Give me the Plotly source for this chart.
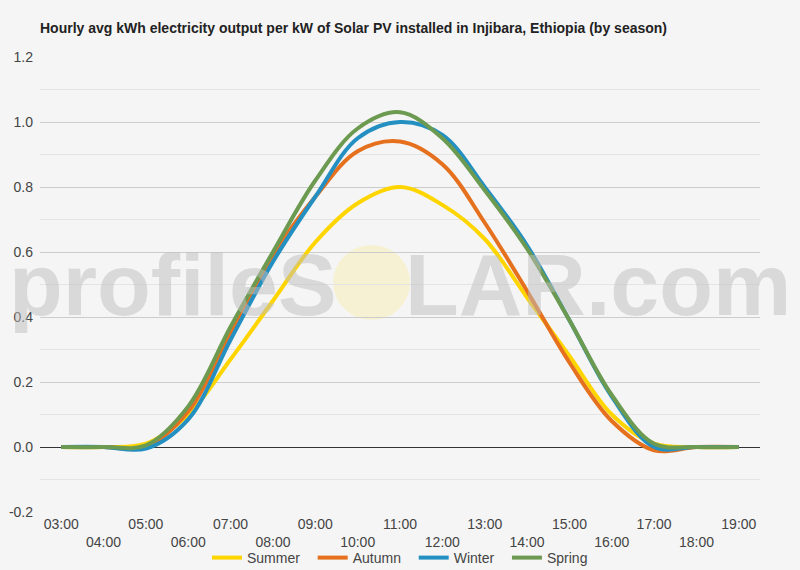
import plotly.graph_objects as go

hours = ["03:00", "04:00", "05:00", "06:00", "07:00", "08:00", "09:00", "10:00", "11:00",
         "12:00", "13:00", "14:00", "15:00", "16:00", "17:00", "18:00", "19:00"]
summer = [0, 0, 0.01, 0.10, 0.27, 0.45, 0.63, 0.75, 0.80, 0.745, 0.64, 0.46, 0.28, 0.10, 0.01, 0, 0]
autumn = [0, 0, 0.0, 0.11, 0.35, 0.59, 0.77, 0.91, 0.94, 0.87, 0.69, 0.48, 0.26, 0.08, -0.01, 0, 0]
winter = [0, 0, -0.005, 0.085, 0.33, 0.57, 0.77, 0.95, 1.00, 0.96, 0.80, 0.62, 0.39, 0.155, 0.0, 0, 0]
spring = [0, 0, 0.005, 0.125, 0.37, 0.60, 0.82, 0.98, 1.03, 0.95, 0.79, 0.61, 0.39, 0.16, 0.01, 0, 0]
y_ticks = [-0.2, 0.0, 0.2, 0.4, 0.6, 0.8, 1.0, 1.2]
y_ticktext = ["-0.2", "0.0", "0.2", "0.4", "0.6", "0.8", "1.0", "1.2"]

series = [("Summer", summer, "#FFD500"), ("Autumn", autumn, "#E5711F"),
          ("Winter", winter, "#2490C2"), ("Spring", spring, "#6C9A50")]

x = list(range(len(hours)))
ticktext = [h if i % 2 == 0 else "<br>" + h for i, h in enumerate(hours)]

FONT = "Liberation Sans, Arial, sans-serif"
fig = go.Figure()

for i, (name, vals, col) in enumerate(series):
    label = name + ("\u00a0\u00a0" if i < len(series) - 1 else "")
    fig.add_trace(go.Scatter(x=x, y=vals, name=label, mode="lines",
                             line=dict(color=col, width=4, shape="spline", smoothing=1)))

fig.add_shape(type="circle", xref="paper", yref="paper",
              x0=0.407, x1=0.514, y0=0.422, y1=0.587,
              fillcolor="rgba(250,238,170,0.45)", line=dict(width=0), layer="below")

# watermark (semi-transparent, above the lines like the reference)
fig.add_annotation(xref="paper", yref="paper", x=0.5, y=(512 - 284) / 455,
                   xanchor="center", yanchor="middle", showarrow=False,
                   text="<b>profileS<span style='color:rgba(0,0,0,0)'>O</span>LAR.com</b>",
                   font=dict(family=FONT, size=88, color="rgba(190,190,190,0.5)"))

fig.update_layout(
    width=800, height=570,
    margin=dict(l=40, r=40, t=57, b=58, autoexpand=False),
    paper_bgcolor="#f5f5f5", plot_bgcolor="#f5f5f5",
    font=dict(family=FONT, size=14, color="#444"),
    title=dict(text="<b>Hourly avg kWh electricity output per kW of Solar PV installed in Injibara, Ethiopia (by season)</b>",
               x=0, xref="paper", xanchor="left", y=1 - 28 / 570, yanchor="middle",
               font=dict(family=FONT, size=14, color="#222")),
    xaxis=dict(range=[-0.5, 16.5], tickmode="array", tickvals=x, ticktext=ticktext,
               showgrid=False, zeroline=False, showline=False, ticks="",
               automargin=False, ticklabelstandoff=2,
               tickfont=dict(size=14, color="#444")),
    yaxis=dict(range=[-0.2, 1.2], tickmode="array", tickvals=y_ticks, ticktext=y_ticktext,
               showgrid=True, gridcolor="#cccccc", gridwidth=1,
               minor=dict(dtick=0.1, showgrid=True, gridcolor="#e4e4e4"),
               zeroline=True, zerolinecolor="#333", zerolinewidth=1,
               showline=False, ticks="", automargin=False, ticklabelstandoff=6,
               tickfont=dict(size=14, color="#444")),
    legend=dict(orientation="h", x=0.5, xanchor="center", y=-46 / 455, yanchor="middle",
                font=dict(size=14, color="#444"), bgcolor="rgba(0,0,0,0)"),
    showlegend=True,
)

fig.write_html("out.html")
